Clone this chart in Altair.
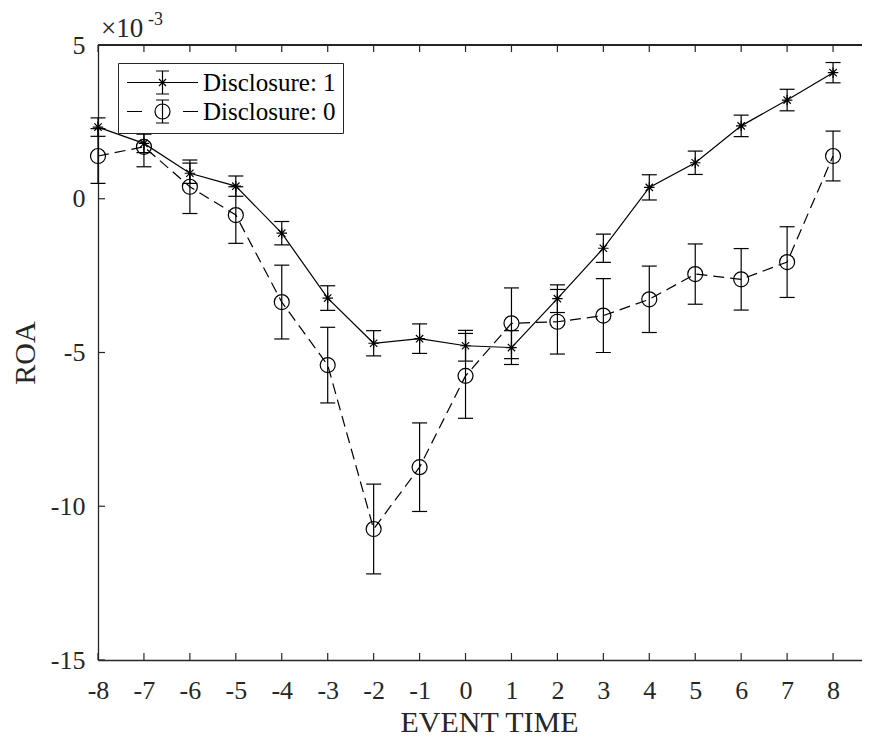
import altair as alt
import pandas as pd

# ---------------- data (ROA in units of 1e-3) ----------------
event_time = list(range(-8, 9))
series_names = ["Disclosure: 1", "Disclosure: 0"]
roa_disc1 = [2.33, 1.80, 0.83, 0.41, -1.12, -3.23, -4.70, -4.55, -4.78, -4.84,
             -3.25, -1.61, 0.37, 1.17, 2.37, 3.21, 4.10]
err_disc1 = [0.30, 0.30, 0.33, 0.33, 0.38, 0.40, 0.41, 0.48, 0.50, 0.55,
             0.45, 0.46, 0.41, 0.38, 0.35, 0.35, 0.33]
roa_disc0 = [1.39, 1.69, 0.39, -0.53, -3.36, -5.41, -10.74, -8.73, -5.76, -4.05,
             -4.00, -3.80, -3.27, -2.45, -2.62, -2.06, 1.39]
err_disc0 = [0.89, 0.65, 0.87, 0.92, 1.20, 1.23, 1.46, 1.44, 1.38, 1.15,
             1.05, 1.20, 1.08, 0.98, 1.00, 1.15, 0.81]
x_ticks = list(range(-8, 9))
y_ticks = [-15, -10, -5, 0, 5]

rows = []
for name, vals, errs in [(series_names[0], roa_disc1, err_disc1),
                         (series_names[1], roa_disc0, err_disc0)]:
    for t, v, e in zip(event_time, vals, errs):
        rows.append({"event": t, "series": name, "roa": v, "lo": v - e, "hi": v + e})
df = pd.DataFrame(rows)
df_xt = pd.DataFrame({"event": x_ticks})
df_yt = pd.DataFrame({"roa": y_ticks})

# ---------------- styling ----------------
W, H = 764, 615
FONT = "Liberation Serif"
INK = "#262626"
LW = 1.2

x_scale = alt.Scale(domain=[-8, 8.63], nice=False, zero=False)
y_scale = alt.Scale(domain=[-15, 5], nice=False, zero=False)

x_axis = alt.Axis(values=x_ticks, labelExpr="datum.value + ''", title="EVENT TIME",
                  ticks=False, tickSize=0, grid=False, labelPadding=38,
                  labelBaseline="alphabetic", labelFontSize=26, labelFont=FONT,
                  labelColor=INK, labelFlush=False, labelOverlap=False,
                  titleFont=FONT, titleFontSize=30, titleFontWeight="normal",
                  titleColor=INK, titleX=391, titleY=71, titleBaseline="alphabetic",
                  domainColor=INK, domainWidth=1.3)
y_axis = alt.Axis(values=y_ticks, labelExpr="datum.value + ''", title="ROA",
                  ticks=False, tickSize=0, grid=False, labelPadding=13,
                  labelFontSize=26, labelFont=FONT, labelColor=INK,
                  labelFlush=False, labelOverlap=False,
                  titleFont=FONT, titleFontSize=30, titleFontWeight="normal",
                  titleColor=INK, titleX=-73, titleY=H / 2, titleAngle=-90,
                  titleBaseline="middle", titleAlign="center",
                  domainColor=INK, domainWidth=1.3)

X = alt.X("event:Q", scale=x_scale, axis=x_axis)


def Y(field):
    return alt.Y(f"{field}:Q", scale=y_scale, axis=y_axis)


base = alt.Chart(df)
s1 = f"datum.series == '{series_names[0]}'"
s0 = f"datum.series == '{series_names[1]}'"

line1 = base.transform_filter(s1).mark_line(color="black", strokeWidth=LW).encode(x=X, y=Y("roa"))
line0 = base.transform_filter(s0).mark_line(color="black", strokeWidth=LW,
                                            strokeDash=[11, 6]).encode(x=X, y=Y("roa"))

err_rule = base.mark_rule(color="black", strokeWidth=LW).encode(x=X, y=Y("lo"), y2="hi:Q")
cap_lo = base.mark_tick(color="black", orient="horizontal", size=15, thickness=LW,
                        opacity=1).encode(x=X, y=Y("lo"))
cap_hi = base.mark_tick(color="black", orient="horizontal", size=15, thickness=LW,
                        opacity=1).encode(x=X, y=Y("hi"))

star_path = "M-1,0L1,0M0,-1L0,1M-0.7,-0.7L0.7,0.7M-0.7,0.7L0.7,-0.7"
pts1 = base.transform_filter(s1).mark_point(shape=star_path, size=110, filled=False,
                                            color="black", strokeWidth=LW,
                                            opacity=1).encode(x=X, y=Y("roa"))
pts0 = base.transform_filter(s0).mark_point(shape="circle", size=225, filled=False,
                                            color="black", strokeWidth=LW,
                                            opacity=1).encode(x=X, y=Y("roa"))

# legend glyphs: line + error bar + marker, drawn as custom symbol paths
leg_path1 = ("M-3.55,0L3.55,0M0,-1.15L0,1.15M-0.65,-1.15L0.65,-1.15"
             "M-0.65,1.15L0.65,1.15M-0.5,0L0.5,0M0,-0.5L0,0.5"
             "M-0.35,-0.35L0.35,0.35M-0.35,0.35L0.35,-0.35")
leg_path0 = ("M-3.55,0L-2.05,0M2.05,0L3.55,0M0,-1.15L0,1.15"
             "M-0.65,-1.15L0.65,-1.15M-0.65,1.15L0.65,1.15"
             "M0.75,0A0.75 0.75 0 1 1 -0.75,0A0.75 0.75 0 1 1 0.75,0")
legend_layer = base.transform_filter("false").mark_point(
    filled=False, color="black", strokeWidth=LW, opacity=1
).encode(
    x=X, y=Y("roa"),
    shape=alt.Shape("series:N",
                    scale=alt.Scale(domain=series_names, range=[leg_path1, leg_path0]),
                    legend=alt.Legend(title=None, orient="none", legendX=20, legendY=18,
                                      padding=7, strokeColor=INK, fillColor="white",
                                      symbolSize=400, symbolOffset=25, labelOffset=28,
                                      symbolStrokeWidth=LW, symbolStrokeColor="black",
                                      labelFont=FONT, labelFontSize=25, labelColor="black",
                                      labelLimit=0, rowPadding=0)),
)

# box frame (top edge) and inward ticks
top_edge = alt.Chart(df_xt).mark_rule(color=INK, strokeWidth=1.3).encode(
    x=alt.value(0), x2=alt.value(W), y=alt.value(0))
tick_bottom = alt.Chart(df_xt).mark_rule(color=INK, strokeWidth=1.2).encode(
    x=X, y=alt.value(H), y2=alt.value(H - 7))
tick_top = alt.Chart(df_xt).mark_rule(color=INK, strokeWidth=1.2).encode(
    x=X, y=alt.value(0), y2=alt.value(7))
tick_left = alt.Chart(df_yt).mark_rule(color=INK, strokeWidth=1.2).encode(
    y=Y("roa"), x=alt.value(0), x2=alt.value(7))

# exponent label
exp_main = alt.Chart(alt.Data(values=[{"t": "×10"}])).mark_text(
    text="×10", font=FONT, fontSize=27, color=INK, align="left", baseline="alphabetic"
).encode(x=alt.value(3), y=alt.value(-8))
exp_sup = alt.Chart(alt.Data(values=[{"t": "-3"}])).mark_text(
    text="-3", font=FONT, fontSize=18, color=INK, align="left", baseline="alphabetic"
).encode(x=alt.value(50), y=alt.value(-20))

chart = alt.layer(
    top_edge, tick_bottom, tick_top, tick_left,
    line1, line0, err_rule, cap_lo, cap_hi, pts1, pts0, legend_layer,
    exp_main, exp_sup,
).properties(
    width=W, height=H,
    autosize=alt.AutoSizeParams(type="none"),
    padding={"left": 90, "top": 37, "right": 0, "bottom": 79},
).configure_view(stroke=None).configure(background="white")

chart.save("out.html", embed_options={"renderer": "svg", "actions": False})
